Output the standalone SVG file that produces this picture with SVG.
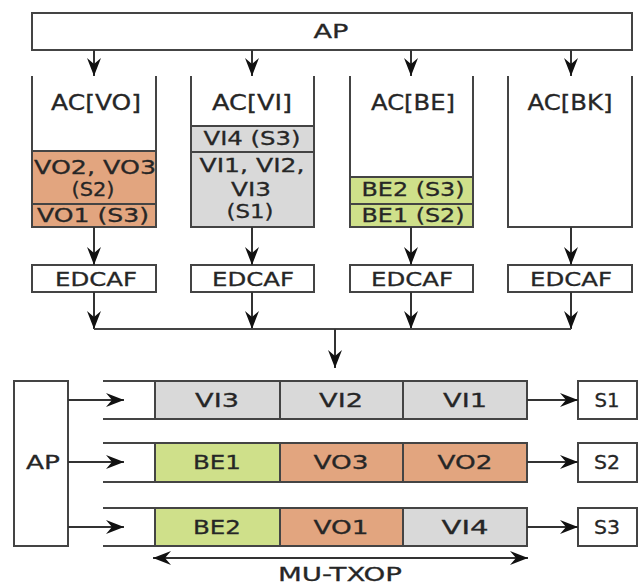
<svg xmlns="http://www.w3.org/2000/svg" width="640" height="586" viewBox="0 0 640 586">
<defs>
<marker id="ah" viewBox="0 0 18 14" refX="18" refY="7" markerWidth="18" markerHeight="14" orient="auto-start-reverse" markerUnits="userSpaceOnUse">
<path d="M0,0 L18,7 L0,14 L6,7 z" fill="#111"/>
</marker>
<style>
.box{fill:#fff;stroke:#444;stroke-width:2}
.q{fill:none;stroke:#444;stroke-width:2}
.vo{fill:#E2A57F;stroke:#444;stroke-width:2}
.vi{fill:#D9D9D9;stroke:#444;stroke-width:2}
.be{fill:#CFE08A;stroke:#444;stroke-width:2}
.ln{fill:none;stroke:#444;stroke-width:2}
.ar{fill:none;stroke:#333;stroke-width:2;marker-end:url(#ah)}
text{font-family:"DejaVu Sans","Liberation Sans",sans-serif;font-size:20px;fill:#262626;stroke:#262626;stroke-width:0.3;text-anchor:middle}
.ac{font-size:21px}
</style>
</defs>

<g id="ap-top">
<rect class="box" x="32" y="13" width="600" height="37"/>
<text x="331" y="38" textLength="35" lengthAdjust="spacingAndGlyphs">AP</text>
</g>

<g id="queue-vo">
<rect class="vo" x="32" y="151" width="124" height="53"/>
<rect class="vo" x="32" y="204" width="124" height="23"/>
<path class="q" d="M32,76 V227 H156 V76"/>
<text class="ac" x="96" y="110" textLength="90" lengthAdjust="spacingAndGlyphs">AC[VO]</text>
<text x="95" y="174" textLength="122" lengthAdjust="spacingAndGlyphs">VO2, VO3</text>
<text x="93" y="196" textLength="43" lengthAdjust="spacingAndGlyphs">(S2)</text>
<text x="93" y="222" textLength="112" lengthAdjust="spacingAndGlyphs">VO1 (S3)</text>
</g>

<g id="queue-vi">
<rect class="vi" x="191" y="126" width="123" height="26"/>
<rect class="vi" x="191" y="152" width="123" height="75"/>
<path class="q" d="M191,76 V227 H314 V76"/>
<text class="ac" x="252" y="110" textLength="80" lengthAdjust="spacingAndGlyphs">AC[VI]</text>
<text x="252" y="145" textLength="97" lengthAdjust="spacingAndGlyphs">VI4 (S3)</text>
<text x="252" y="172" textLength="105" lengthAdjust="spacingAndGlyphs">VI1, VI2,</text>
<text x="251" y="196" textLength="40" lengthAdjust="spacingAndGlyphs">VI3</text>
<text x="250" y="218" textLength="47" lengthAdjust="spacingAndGlyphs">(S1)</text>
</g>

<g id="queue-be">
<rect class="be" x="350" y="177" width="123" height="27"/>
<rect class="be" x="350" y="204" width="123" height="23"/>
<path class="q" d="M350,76 V227 H473 V76"/>
<text class="ac" x="413" y="110" textLength="84" lengthAdjust="spacingAndGlyphs">AC[BE]</text>
<text x="413" y="196" textLength="103" lengthAdjust="spacingAndGlyphs">BE2 (S3)</text>
<text x="413" y="222" textLength="103" lengthAdjust="spacingAndGlyphs">BE1 (S2)</text>
</g>

<g id="queue-bk">
<path class="q" d="M508,76 V227 H632 V76"/>
<text class="ac" x="570" y="110" textLength="85" lengthAdjust="spacingAndGlyphs">AC[BK]</text>
</g>

<g id="edcaf-vo"><rect class="box" x="32" y="265" width="124" height="27"/><text x="96" y="286" textLength="82" lengthAdjust="spacingAndGlyphs">EDCAF</text></g>
<g id="edcaf-vi"><rect class="box" x="191" y="265" width="123" height="27"/><text x="253" y="286" textLength="82" lengthAdjust="spacingAndGlyphs">EDCAF</text></g>
<g id="edcaf-be"><rect class="box" x="350" y="265" width="123" height="27"/><text x="412" y="286" textLength="82" lengthAdjust="spacingAndGlyphs">EDCAF</text></g>
<g id="edcaf-bk"><rect class="box" x="508" y="265" width="124" height="27"/><text x="571" y="286" textLength="82" lengthAdjust="spacingAndGlyphs">EDCAF</text></g>

<g id="ap-bottom">
<rect class="box" x="14" y="381" width="54" height="165"/>
<text x="43" y="469" textLength="34" lengthAdjust="spacingAndGlyphs">AP</text>
</g>

<g id="row-s1">
<path class="ln" d="M103,381 H155 M103,419 H155"/>
<rect class="vi" x="155" y="381" width="125" height="38"/>
<rect class="vi" x="280" y="381" width="123" height="38"/>
<rect class="vi" x="403" y="381" width="124" height="38"/>
<text x="217" y="407" textLength="44" lengthAdjust="spacingAndGlyphs">VI3</text>
<text x="341" y="407" textLength="44" lengthAdjust="spacingAndGlyphs">VI2</text>
<text x="465" y="407" textLength="44" lengthAdjust="spacingAndGlyphs">VI1</text>
</g>
<g id="row-s2">
<path class="ln" d="M103,443 H155 M103,482 H155"/>
<rect class="be" x="155" y="443" width="125" height="39"/>
<rect class="vo" x="280" y="443" width="123" height="39"/>
<rect class="vo" x="403" y="443" width="124" height="39"/>
<text x="217" y="469" textLength="48" lengthAdjust="spacingAndGlyphs">BE1</text>
<text x="341" y="469" textLength="55" lengthAdjust="spacingAndGlyphs">VO3</text>
<text x="465" y="469" textLength="55" lengthAdjust="spacingAndGlyphs">VO2</text>
</g>
<g id="row-s3">
<path class="ln" d="M103,508 H155 M103,546 H155"/>
<rect class="be" x="155" y="508" width="125" height="38"/>
<rect class="vo" x="280" y="508" width="123" height="38"/>
<rect class="vi" x="403" y="508" width="124" height="38"/>
<text x="217" y="534" textLength="48" lengthAdjust="spacingAndGlyphs">BE2</text>
<text x="341" y="534" textLength="55" lengthAdjust="spacingAndGlyphs">VO1</text>
<text x="465" y="534" textLength="47" lengthAdjust="spacingAndGlyphs">VI4</text>
</g>

<g id="s1"><rect class="box" x="578" y="381" width="59" height="38"/><text x="607" y="407" textLength="25" lengthAdjust="spacingAndGlyphs">S1</text></g>
<g id="s2"><rect class="box" x="578" y="443" width="59" height="39"/><text x="607" y="469" textLength="26" lengthAdjust="spacingAndGlyphs">S2</text></g>
<g id="s3"><rect class="box" x="578" y="508" width="59" height="38"/><text x="607" y="534" textLength="26" lengthAdjust="spacingAndGlyphs">S3</text></g>

<g id="mu-txop">
<text x="340" y="581" textLength="124" lengthAdjust="spacingAndGlyphs">MU-TXOP</text>
</g>

<g id="connectors">
<path class="ar" d="M94,50 V76"/>
<path class="ar" d="M252,50 V76"/>
<path class="ar" d="M411,50 V76"/>
<path class="ar" d="M571,50 V76"/>
<path class="ar" d="M94,227 V265"/>
<path class="ar" d="M252,227 V265"/>
<path class="ar" d="M411,227 V265"/>
<path class="ar" d="M571,227 V265"/>
<path class="ar" d="M94,292 V329"/>
<path class="ar" d="M252,292 V329"/>
<path class="ar" d="M411,292 V329"/>
<path class="ar" d="M571,292 V329"/>
<path class="ln" d="M94,329 H571"/>
<path class="ar" d="M335,329 V368"/>
<path class="ar" d="M68,400 H124"/>
<path class="ar" d="M68,462 H124"/>
<path class="ar" d="M68,527 H124"/>
<path class="ar" d="M527,400 H578"/>
<path class="ar" d="M527,462 H578"/>
<path class="ar" d="M527,527 H578"/>
<path class="ar" d="M153,558 H528" style="marker-start:url(#ah)"/>
</g>
</svg>
